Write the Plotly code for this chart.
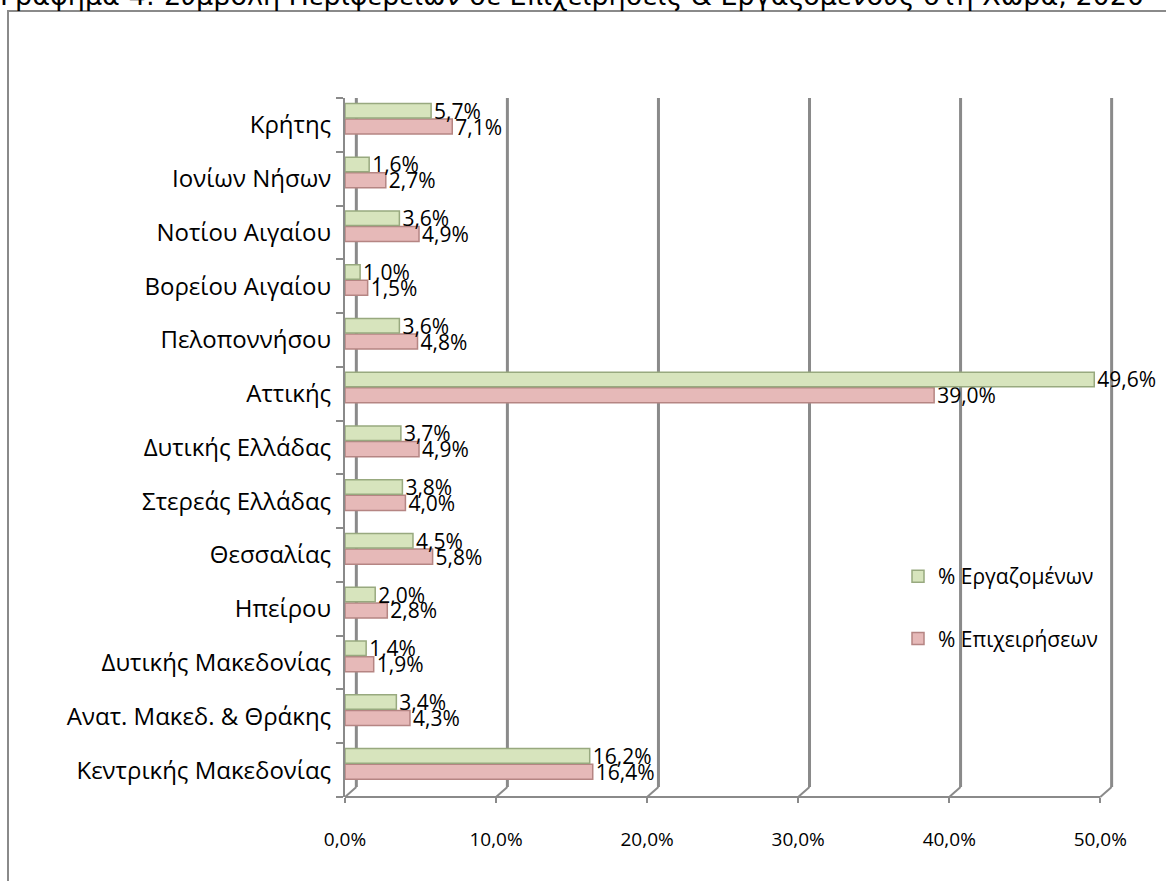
import plotly.graph_objects as go

regions = [
    "Κεντρικής Μακεδονίας",
    "Ανατ. Μακεδ. & Θράκης",
    "Δυτικής Μακεδονίας",
    "Ηπείρου",
    "Θεσσαλίας",
    "Στερεάς Ελλάδας",
    "Δυτικής Ελλάδας",
    "Αττικής",
    "Πελοποννήσου",
    "Βορείου Αιγαίου",
    "Νοτίου Αιγαίου",
    "Ιονίων Νήσων",
    "Κρήτης",
]
employees = [16.2, 3.4, 1.4, 2.0, 4.5, 3.8, 3.7, 49.6, 3.6, 1.0, 3.6, 1.6, 5.7]
businesses = [16.4, 4.3, 1.9, 2.8, 5.8, 4.0, 4.9, 39.0, 4.8, 1.5, 4.9, 2.7, 7.1]
x_ticks = [0, 10, 20, 30, 40, 50]
x_tick_labels = ["0,0%", "10,0%", "20,0%", "30,0%", "40,0%", "50,0%"]
title_text = "Γράφημα 4: Συμβολή Περιφερειών σε Επιχειρήσεις & Εργαζομένους στη Χώρα, 2020"


def fmt(v):
    return f"{v:.1f}%".replace(".", ",")


FONT = "Open Sans"
GRAY = "#8a8a8a"
SCALE = 15.1      # px per percentage point
X_MAX = 51.9      # extent of the plotting area, in axis units
WALL = 0.75       # depth offset of the back wall (3D look), in axis units
FLOOR_PX = 10     # depth offset of the back wall, vertical, in px

fig = go.Figure()
fig.add_trace(go.Bar(
    y=regions, x=businesses, orientation="h", name="% Επιχειρήσεων",
    marker=dict(color="#e6b9b8", line=dict(color="#b58583", width=1.5)),
    width=0.28, offset=-0.17,
    text=[fmt(v) for v in businesses], textposition="outside",
    textfont=dict(size=21, color="#000000", family=FONT),
    constraintext="none", cliponaxis=False, legendrank=2, legendgroup="b",
))
fig.add_trace(go.Bar(
    y=regions, x=employees, orientation="h", name="% Εργαζομένων",
    marker=dict(color="#d7e4bd", line=dict(color="#98a97f", width=1.5)),
    width=0.27, offset=0.13,
    text=[fmt(v) for v in employees], textposition="outside",
    textfont=dict(size=21, color="#000000", family=FONT),
    constraintext="none", cliponaxis=False, legendrank=1, legendgroup="e",
))

W, H = 1166, 881
L, T, B = 345, 98, 84
R = W - L - int(round(X_MAX * SCALE))
pw = W - L - R
ph = H - T - B


def px2x(p):
    return (p - L) / pw


def py2y(p):
    return (H - B - p) / ph


floor_y = FLOOR_PX / ph

fig.update_layout(
    width=W, height=H,
    margin=dict(l=L, r=R, t=T, b=B, pad=0),
    paper_bgcolor="white", plot_bgcolor="white",
    barmode="group",
    font=dict(family=FONT, size=16, color="#000000"),
    showlegend=True,
    legend=dict(
        x=px2x(898), y=py2y(556), xanchor="left", yanchor="top",
        font=dict(size=21, family=FONT, color="#000000"), bgcolor="rgba(0,0,0,0)",
        tracegroupgap=32, itemwidth=30,
    ),
    xaxis=dict(
        range=[0, X_MAX], tickvals=x_ticks, ticktext=x_tick_labels,
        showgrid=False, zeroline=False, showline=False,
        ticks="outside", ticklen=5, tickcolor=GRAY, tickwidth=2,
        ticklabelstandoff=20, tickfont=dict(size=19, family=FONT),
        fixedrange=True,
    ),
    yaxis=dict(
        categoryorder="array", categoryarray=regions,
        showline=True, linecolor=GRAY, linewidth=2,
        ticks="outside", tickson="boundaries", ticklen=7, tickcolor=GRAY,
        tickwidth=2, ticklabelstandoff=7, tickfont=dict(size=24, family=FONT),
        showgrid=False, fixedrange=True,
    ),
)

# 3D-style frame: front floor edge, back-wall grid lines and floor diagonals
fig.add_shape(type="line", xref="x", yref="paper",
              x0=x_ticks[0], x1=x_ticks[-1], y0=0, y1=0,
              line=dict(color=GRAY, width=2), layer="below")
for v in x_ticks:
    fig.add_shape(type="line", xref="x", yref="paper",
                  x0=v + WALL, x1=v + WALL, y0=floor_y, y1=1,
                  line=dict(color=GRAY, width=3), layer="below")
    fig.add_shape(type="line", xref="x", yref="paper",
                  x0=v, x1=v + WALL, y0=0, y1=floor_y,
                  line=dict(color=GRAY, width=2), layer="below")

# outer chart border (extends beyond the visible page on right and bottom)
fig.add_shape(type="rect", xref="paper", yref="paper",
              x0=px2x(8), x1=px2x(1175), y0=py2y(895), y1=py2y(11),
              line=dict(color=GRAY, width=2), fillcolor="rgba(0,0,0,0)",
              layer="below")

# title, cut at the top of the page as in the original
fig.add_annotation(text=title_text, xref="paper", yref="paper",
                   x=px2x(-2), y=py2y(13), xanchor="left", yanchor="bottom",
                   showarrow=False, font=dict(size=27, family="DejaVu Sans", color="#000000"))

fig.write_html("out.html", config={"displayModeBar": False},
               post_script="document.body.style.margin='0';")
